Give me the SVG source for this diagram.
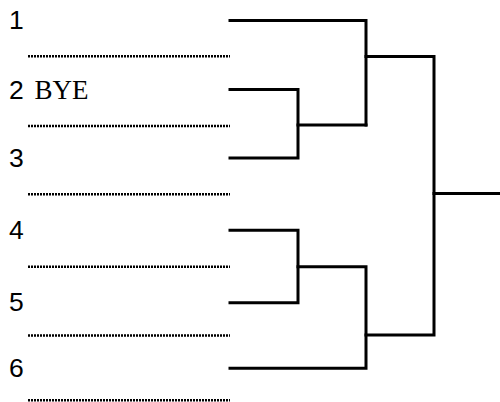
<svg xmlns="http://www.w3.org/2000/svg" width="500" height="402" viewBox="0 0 500 402">
<style>
.lbl{font-family:"Liberation Sans",Arial,sans-serif;font-size:26.5px;fill:#000}
.bye{font-family:"Liberation Serif","Times New Roman",serif;font-size:27px;fill:#000}
.dot{stroke:#000;stroke-width:2.5;stroke-dasharray:2 1;fill:none}
.br{stroke:#000;stroke-width:3;fill:none;stroke-linecap:square}
</style>
<rect width="500" height="402" fill="#fff"/>
<g id="entry1"><text class="lbl" x="9" y="29.3">1</text><line class="dot" x1="28" y1="56.3" x2="230" y2="56.3"/></g>
<g id="entry2"><text class="lbl" x="9" y="99.3">2</text><text class="bye" x="34.5" y="99.3">BYE</text><line class="dot" x1="28" y1="126" x2="230" y2="126"/></g>
<g id="entry3"><text class="lbl" x="9" y="167.3">3</text><line class="dot" x1="28" y1="194.3" x2="230" y2="194.3"/></g>
<g id="entry4"><text class="lbl" x="9" y="239">4</text><line class="dot" x1="28" y1="266.7" x2="230" y2="266.7"/></g>
<g id="entry5"><text class="lbl" x="9" y="310.5">5</text><line class="dot" x1="28" y1="335.5" x2="230" y2="335.5"/></g>
<g id="entry6"><text class="lbl" x="9" y="377">6</text><line class="dot" x1="28" y1="400.3" x2="230" y2="400.3"/></g>
<g id="connectors">
<path class="br" d="M230 20.5H366V125"/>
<path class="br" d="M230 89.5H298V158H230"/>
<path class="br" d="M298 125H366"/>
<path class="br" d="M366 56.5H434V335H366"/>
<path class="br" d="M434 193.5H500"/>
<path class="br" d="M230 230.3H298V302.7H230"/>
<path class="br" d="M298 266.7H366V368.3H230"/>
</g>
</svg>
